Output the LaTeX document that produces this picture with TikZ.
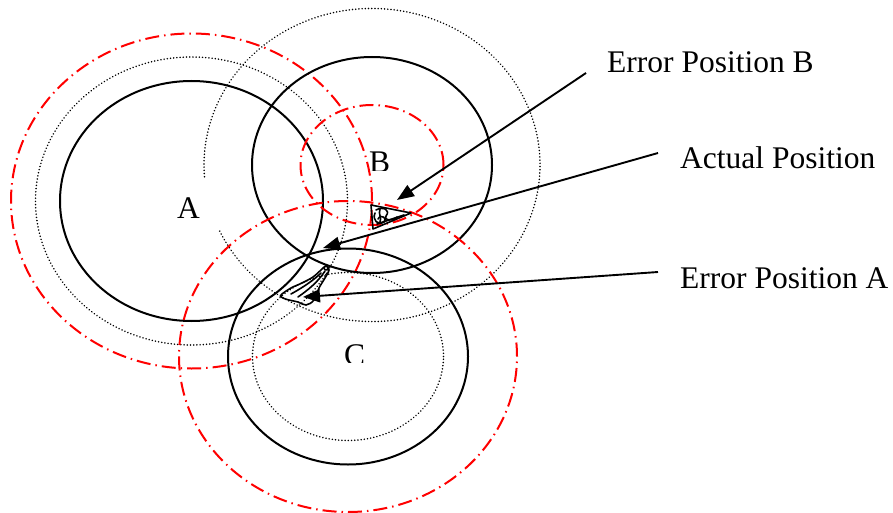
\documentclass[tikz,border=0pt]{standalone}
\usepackage{fontspec}
\setmainfont{Liberation Serif}
\usetikzlibrary{arrows.meta}
\begin{document}
\begin{tikzpicture}[x=1pt,y=-1pt,
  solidc/.style={line width=2pt},
  dotc/.style={line width=1.7pt,dash pattern=on 0.01pt off 3.2pt, line cap=round},
  redc/.style={red, line width=2pt, dash pattern=on 14pt off 5pt on 1.5pt off 5pt},
  lbl/.style={font=\fontsize{31.5}{38}\selectfont, inner sep=0pt, anchor=base west},
  ptr/.style={line width=1.9pt, -{Triangle[length=17pt,width=13pt]}},
  scrib/.style={line width=1.6pt, line join=round, line cap=round}
]
\useasboundingbox (0,0) rectangle (893,513);

% centres
\coordinate (cA) at (191.5,201);
\coordinate (cB) at (372,165);
\coordinate (cC) at (348,356.5);

% circle A
\draw[solidc] (cA) ellipse [x radius=131.5pt, y radius=120pt];
\draw[dotc]   (cA) ellipse [x radius=156pt, y radius=144pt];
\draw[redc]   (cA) ellipse [x radius=180.5pt, y radius=167.5pt];

% circle B
\draw[solidc] (cB) ellipse [x radius=120pt, y radius=108pt];
\draw[dotc]   (cB) ++(205:168pt and 156.5pt)
   arc[start angle=205, end angle=545, x radius=168pt, y radius=156.5pt];
\draw[redc]   (cB) ellipse [x radius=71.5pt, y radius=60pt];

% circle C
\draw[solidc] (cC) ellipse [x radius=120pt, y radius=108pt];
\draw[dotc]   (cC) ellipse [x radius=95.5pt, y radius=84pt];
\draw[redc]   (cC) ellipse [x radius=169pt, y radius=155.5pt];

% labels of the circles
\node[lbl] (la) at (177,218) {A};
\begin{scope}
  \clip (355,140) rectangle (405,171);
  \node[lbl] (lb) at (369,172) {B};
\end{scope}
\begin{scope}
  \clip (330,330) rectangle (380,362);
  \node[lbl] (lc) at (344,365) {C};
\end{scope}

% callout texts
\node[lbl] (eb) at (607,73) {Error Position B};
\node[lbl] (ap) at (680,168) {Actual Position};
\node[lbl] (ea) at (680,288) {Error Position A};

% scribble B
\draw[scrib] (371,205) -- (411,213) -- (373,229) -- cycle;
\draw[scrib] (377,224) -- (404,215);
\draw[scrib] (376,210) .. controls (383,206) and (391,210) .. (386,216)
             .. controls (383,220) and (392,222) .. (397,217);
\draw[scrib] (375,213) .. controls (372,220) and (378,226) .. (384,222)
             .. controls (388,219) and (381,213) .. (378,219);
\draw[scrib] (380,209) .. controls (378,214) and (382,218) .. (380,222);

% scribble A
\draw[scrib] plot[smooth cycle, tension=0.6] coordinates
  {(281,295) (291,288) (302,283) (313,277) (321,270) (326,266) (329,270)
   (325,278) (319,288) (314,300) (306,305) (298,302) (289,300) (283,298)};
\draw[scrib] (291,294) .. controls (302,288) and (314,280) .. (321,273);
\draw[scrib] (298,297) .. controls (308,290) and (318,282) .. (325,271);
\draw[scrib] (326,268) circle[radius=2pt];

% connector end points
\coordinate (ebEnd) at (586,73);
\coordinate (apEnd) at (658,153);
\coordinate (eaEnd) at (658,272);
\coordinate (ebTip) at (397,200);
\coordinate (apTip) at (323,248);
\coordinate (eaTip) at (303,297);

\draw[ptr] (ebEnd) -- (ebTip);
\draw[ptr] (apEnd) -- (apTip);
\draw[ptr] (eaEnd) -- (eaTip);
\end{tikzpicture}
\end{document}
